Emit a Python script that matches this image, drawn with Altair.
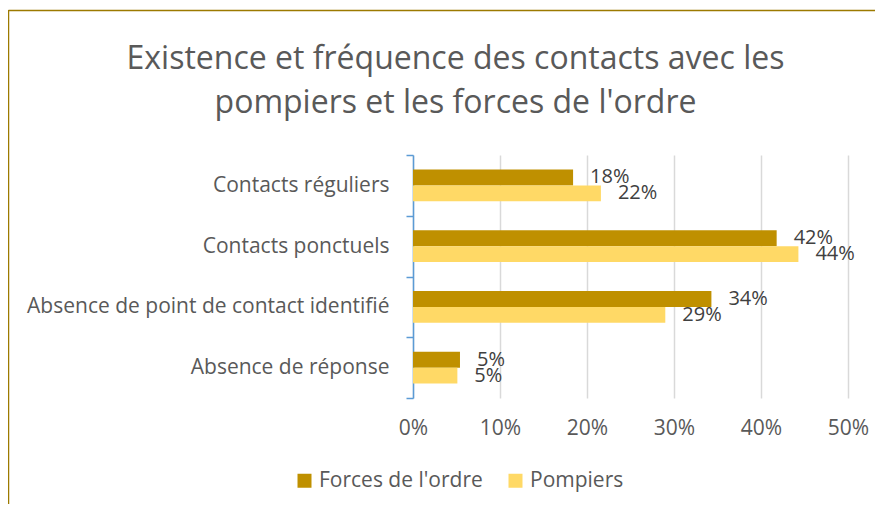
import altair as alt
import pandas as pd

categories = ["Contacts réguliers", "Contacts ponctuels",
              "Absence de point de contact identifié", "Absence de réponse"]
series = ["Forces de l'ordre", "Pompiers"]
forces = [0.184, 0.418, 0.343, 0.054]
pompiers = [0.216, 0.443, 0.290, 0.051]
x_ticks = [0, 0.1, 0.2, 0.3, 0.4, 0.5]
colors = ["#BF9000", "#FFD966"]

rows = []
for c, f, p in zip(categories, forces, pompiers):
    rows.append({"cat": c, "serie": series[0], "v": f})
    rows.append({"cat": c, "serie": series[1], "v": p})
df = pd.DataFrame(rows)

FONT = "Open Sans"

y_enc = alt.Y("cat:N", sort=categories, title=None,
              scale=alt.Scale(paddingInner=0, paddingOuter=0),
              axis=alt.Axis(domainColor="#5B9BD5", domainWidth=1.5,
                            tickColor="#5B9BD5", tickWidth=1.5, tickSize=7,
                            tickBand="extent", grid=False, labelLimit=0,
                            labelFont=FONT, labelFontSize=21, labelColor="#595959",
                            labelPadding=17))
yoff = alt.YOffset("serie:N", sort=series,
                   scale=alt.Scale(paddingInner=0, paddingOuter=0.9))
x_enc = alt.X("v:Q", title=None,
              scale=alt.Scale(domain=[0, 0.5], nice=False),
              axis=alt.Axis(values=x_ticks, format=".0%", domain=False, ticks=False,
                            grid=True, gridColor="#D9D9D9", gridWidth=1.5,
                            labelFlush=False,
                            labelFont=FONT, labelFontSize=21, labelColor="#595959",
                            labelPadding=19))

base = alt.Chart(df)

bars = base.mark_bar().encode(
    y=y_enc, yOffset=yoff, x=x_enc,
    color=alt.Color("serie:N", sort=series, title=None,
                    scale=alt.Scale(domain=series, range=colors),
                    legend=alt.Legend(orient="none", legendX=-119, legendY=315,
                                      direction="horizontal", symbolType="square",
                                      symbolSize=196, symbolStrokeWidth=0,
                                      labelFont=FONT, labelFontSize=21,
                                      labelColor="#595959", columnPadding=22,
                                      labelOffset=4, labelLimit=0)),
)

labels = base.mark_text(align="left", baseline="middle", dx=17, font=FONT,
                        fontSize=20, color="#404040").encode(
    y=alt.Y("cat:N", sort=categories),
    yOffset=alt.YOffset("serie:N", sort=series),
    x="v:Q",
    text=alt.Text("v:Q", format=".0%"),
)

frame_df = pd.DataFrame({"k": [0]})
left_border = alt.Chart(frame_df).mark_rule(color="#9C7A00", strokeWidth=1.5, clip=False).encode(
    x=alt.value(-404.5), y=alt.value(-145), y2=alt.value(360))
top_border = alt.Chart(frame_df).mark_rule(color="#9C7A00", strokeWidth=1.5, clip=False).encode(
    x=alt.value(-404.5), x2=alt.value(480), y=alt.value(-144.5))

chart = alt.layer(bars, labels, left_border, top_border).properties(
    width=435, height=243,
    autosize=alt.AutoSizeParams(type="none"),
    padding={"left": 405, "top": 147, "right": 27, "bottom": 106},
    title=alt.Title(["Existence et fréquence des contacts avec les",
                     "pompiers et les forces de l'ordre"],
                    font=FONT, fontSize=32, fontWeight="normal", color="#595959",
                    anchor="middle", frame="group", dx=-175, dy=111,
                    lineHeight=44, offset=0),
).configure_view(stroke=None)

chart.save("out.html", embed_options={"renderer": "svg", "actions": False})
